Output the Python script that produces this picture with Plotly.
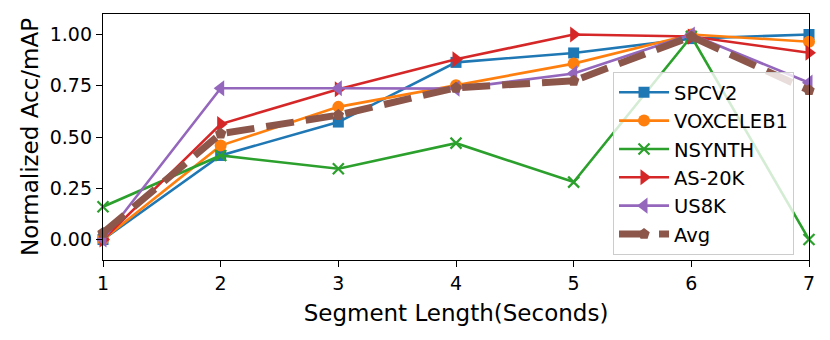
import plotly.graph_objects as go

seg_len = [1, 2, 3, 4, 5, 6, 7]

spcv2 = [0.0, 0.41, 0.573, 0.864, 0.91, 0.98, 1.0]
voxceleb1 = [0.0, 0.458, 0.647, 0.752, 0.858, 1.0, 0.965]
nsynth = [0.16, 0.41, 0.345, 0.47, 0.28, 0.99, 0.0]
as20k = [0.0, 0.563, 0.733, 0.879, 1.0, 0.99, 0.911]
us8k = [0.0, 0.738, 0.738, 0.736, 0.81, 1.0, 0.765]
avg = [0.032, 0.516, 0.607, 0.74, 0.774, 0.99, 0.728]

series = [
    ("SPCV2", spcv2, "#1f77b4", "square", 11),
    ("VOXCELEB1", voxceleb1, "#ff7f0e", "circle", 12),
    ("NSYNTH", nsynth, "#2ca02c", "x-thin-open", 11),
    ("AS-20K", as20k, "#d62728", "triangle-right", 14),
    ("US8K", us8k, "#9467bd", "triangle-left", 14),
]

fig = go.Figure()
for name, vals, color, symbol, size in series:
    fig.add_trace(go.Scatter(
        x=seg_len, y=vals, name=name, mode="lines+markers",
        line=dict(color=color, width=2.6),
        marker=dict(symbol=symbol, size=size, color=color,
                    line=dict(color=color, width=2.2 if symbol.startswith("x") else 0)),
        cliponaxis=False,
    ))

fig.add_trace(go.Scatter(
    x=seg_len, y=avg, name="Avg", mode="lines+markers",
    line=dict(color="#8c564b", width=7, dash="28px,12px"),
    marker=dict(symbol="pentagon", size=12, color="#8c564b"),
    cliponaxis=False,
))

axis_common = dict(
    showline=True, linecolor="black", linewidth=1.3, mirror=True,
    ticks="outside", ticklen=6, tickwidth=1.3, tickcolor="black",
    showgrid=False, zeroline=False,
    tickfont=dict(size=19, color="black"),
)

# page body has an 8px margin, so the figure is shifted by 8px
fig.update_layout(
    width=822, height=332,
    margin=dict(l=95, r=21, t=6, b=80),
    plot_bgcolor="white", paper_bgcolor="white",
    font=dict(family="DejaVu Sans", color="black"),
    xaxis=dict(range=[1, 7], dtick=1,
               title=dict(text="Segment Length(Seconds)", font=dict(size=23), standoff=11),
               **axis_common),
    yaxis=dict(range=[-0.1, 1.1], tickvals=[0, 0.25, 0.5, 0.75, 1.0],
               ticktext=["0.00", "0.25", "0.50", "0.75", "1.00"],
               title=dict(text="Normalized Acc/mAP", font=dict(size=23), standoff=4),
               **axis_common),
    legend=dict(x=0.7224, y=0.764, xanchor="left", yanchor="top",
                bgcolor="rgba(255,255,255,0.8)", bordercolor="#cccccc", borderwidth=1,
                font=dict(size=19.5), tracegroupgap=0, itemwidth=50),
    showlegend=True,
)

fig.write_html("out.html")
